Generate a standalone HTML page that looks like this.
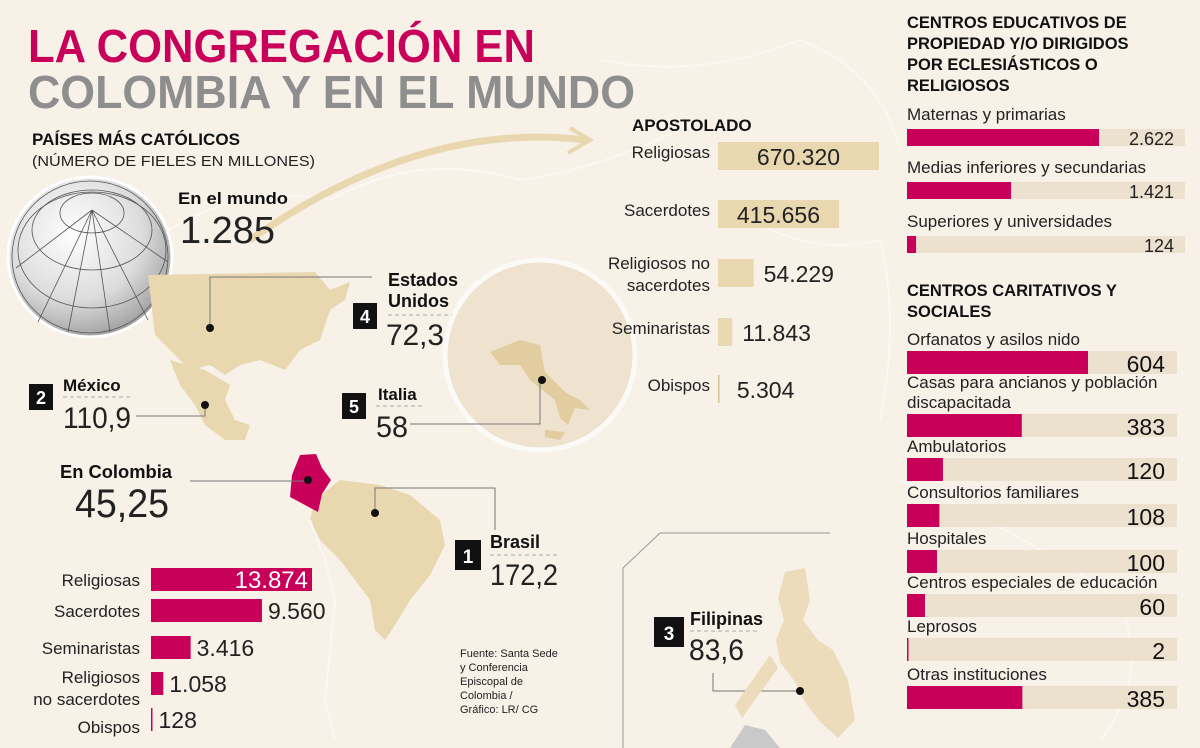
<!DOCTYPE html>
<html><head><meta charset="utf-8"><style>
html,body{margin:0;padding:0;background:#f7f1e8;}
svg{display:block;font-family:"Liberation Sans",sans-serif;}
</style></head><body>
<svg id="chart" width="1200" height="748" viewBox="0 0 1200 748" xmlns="http://www.w3.org/2000/svg">
<defs>
<radialGradient id="glb" cx="0.4" cy="0.35" r="0.7"><stop offset="0" stop-color="#ffffff"/><stop offset="0.6" stop-color="#dcdcdc"/><stop offset="1" stop-color="#9a9a9a"/></radialGradient>
</defs>
<rect width="1200" height="748" fill="#f7f1e8"/>
<g fill="none" stroke="#fbf8f3" stroke-width="2" opacity="0.9">
<path d="M140 250 Q230 180 330 200 Q420 150 520 180 Q600 170 700 120"/>
<path d="M600 60 Q700 80 800 40 Q880 70 900 150"/>
<path d="M720 200 Q800 260 880 240 Q900 320 880 420"/>
<path d="M900 480 Q1000 520 1120 600 Q1150 680 1100 740"/>
</g>
<text x="28" y="62" font-size="46" font-weight="bold" fill="#c8005a" textLength="507" lengthAdjust="spacingAndGlyphs">LA CONGREGACIÓN EN</text>
<text x="28" y="108" font-size="46" font-weight="bold" fill="#8e8e8e" textLength="607" lengthAdjust="spacingAndGlyphs">COLOMBIA Y EN EL MUNDO</text>
<text x="32" y="145" font-size="17" font-weight="bold" fill="#111" textLength="208" lengthAdjust="spacingAndGlyphs">PAÍSES MÁS CATÓLICOS</text>
<text x="32" y="166" font-size="15" fill="#222" textLength="283" lengthAdjust="spacingAndGlyphs">(NÚMERO DE FIELES EN MILLONES)</text>
<path d="M250 240 Q420 120 585 140" fill="none" stroke="#e9d7b0" stroke-width="7"/>
<path d="M570 128 L590 140 L568 153" fill="none" stroke="#e9d7b0" stroke-width="4"/>
<g>
<ellipse cx="90" cy="257" rx="82" ry="80" fill="url(#glb)" stroke="#fff" stroke-width="3"/>
<g fill="none" stroke="#555" stroke-width="0.8">
<ellipse cx="90" cy="257" rx="78" ry="76"/>
<ellipse cx="92" cy="213" rx="32" ry="20"/>
<ellipse cx="92" cy="230" rx="60" ry="40"/>
<ellipse cx="92" cy="250" rx="74" ry="58"/>
<path d="M92 210 L38 322 M92 210 L68 332 M92 210 L110 332 M92 210 L148 320 M92 210 L168 262 M92 210 L16 268"/>
</g>
</g>
<text x="178" y="204" font-size="17" font-weight="bold" fill="#111" textLength="110" lengthAdjust="spacingAndGlyphs">En el mundo</text>
<text x="180" y="243" font-size="38" fill="#222" textLength="95" lengthAdjust="spacingAndGlyphs">1.285</text>
<circle cx="540" cy="355" r="95" fill="#efe3d0" stroke="#fcfaf6" stroke-width="5"/>
<path d="M490 352 L520 340 L540 345 L545 372 L565 392 L580 400 L590 410 L575 408 L568 425 L560 418 L555 400 L530 380 L520 365 L500 365 Z" fill="#e2cda0"/>
<path d="M545 430 L565 432 L560 440 L545 437 Z" fill="#e2cda0"/>
<path d="M148 275 L315 272 L330 290 L350 282 L345 300 L330 310 L320 340 L300 350 L285 370 L260 360 L240 365 L225 375 L210 365 L190 370 L170 350 L155 335 Z" fill="#e9d7b0"/>
<path d="M170 360 L205 370 L230 385 L225 400 L235 420 L250 425 L245 440 L225 440 L205 425 L195 405 L180 385 Z" fill="#e9d7b0"/>
<path d="M315 500 L340 480 L380 485 L410 495 L440 520 L445 545 L430 575 L410 600 L395 625 L385 640 L375 630 L370 600 L355 580 L340 560 L320 540 L310 520 Z" fill="#e9d7b0"/>
<path d="M300 455 L316 454 L322 468 L331 480 L322 494 L318 512 L305 505 L290 497 L292 475 Z" fill="#c8005a"/>
<path d="M310 520 L325 560 L335 600 L330 650 L325 700 L335 740" fill="none" stroke="#fbf8f3" stroke-width="2"/>
<g fill="none" stroke="#777" stroke-width="1">
<path d="M210 328 L210 277 L372 277"/>
<path d="M205 405 L205 416 L136 416"/>
<path d="M410 424 L540 424 L540 380"/>
<path d="M190 481 L308 481"/>
<path d="M375 515 L375 488 L495 488 L495 530"/>
<path d="M713 673 L713 691 L800 691"/>
</g>
<g fill="none" stroke="#aaa" stroke-width="1" stroke-dasharray="4 3">
<path d="M388 315 L452 315"/><path d="M63 397 L132 397"/><path d="M376 406 L425 406"/><path d="M490 555 L558 555"/><path d="M690 631 L758 631"/>
</g>
<path d="M785 572 L805 568 L810 600 L803 620 L818 640 L833 650 L848 680 L855 720 L838 738 L820 722 L805 702 L795 682 L780 662 L776 640 L784 620 L778 598 Z M735 705 L770 655 L778 668 L742 718 Z" fill="#ecdcbb"/>
<path d="M730 748 L745 725 L765 730 L780 748 Z" fill="#c9c9c9"/>
<g fill="#111">
<circle cx="210" cy="328" r="4"/><circle cx="205" cy="405" r="4"/><circle cx="542" cy="380" r="4"/><circle cx="308" cy="480" r="4"/><circle cx="375" cy="513" r="4"/><circle cx="800" cy="691" r="4"/>
</g>
<g><rect x="353" y="303" width="24" height="26" fill="#111"/><text x="365" y="323" font-size="18" font-weight="bold" fill="#fff" text-anchor="middle">4</text></g>
<text x="388" y="286" font-size="18" font-weight="bold" fill="#111">Estados</text>
<text x="388" y="307" font-size="18" font-weight="bold" fill="#111">Unidos</text>
<text x="386" y="345" font-size="30" fill="#222" textLength="58" lengthAdjust="spacingAndGlyphs">72,3</text>
<g><rect x="29" y="384" width="24" height="26" fill="#111"/><text x="41" y="404" font-size="18" font-weight="bold" fill="#fff" text-anchor="middle">2</text></g>
<text x="63" y="391" font-size="17" font-weight="bold" fill="#111">México</text>
<text x="63" y="428" font-size="30" fill="#222" textLength="68" lengthAdjust="spacingAndGlyphs">110,9</text>
<g><rect x="342" y="393" width="24" height="26" fill="#111"/><text x="354" y="413" font-size="18" font-weight="bold" fill="#fff" text-anchor="middle">5</text></g>
<text x="378" y="400" font-size="17" font-weight="bold" fill="#111">Italia</text>
<text x="376" y="437" font-size="30" fill="#222" textLength="32" lengthAdjust="spacingAndGlyphs">58</text>
<text x="60" y="478" font-size="18" font-weight="bold" fill="#111" textLength="112" lengthAdjust="spacingAndGlyphs">En Colombia</text>
<text x="75" y="517" font-size="40" fill="#222" textLength="94" lengthAdjust="spacingAndGlyphs">45,25</text>
<g><rect x="455" y="540" width="26" height="30" fill="#111"/><text x="468" y="563" font-size="19" font-weight="bold" fill="#fff" text-anchor="middle">1</text></g>
<text x="490" y="548" font-size="18" font-weight="bold" fill="#111">Brasil</text>
<text x="490" y="585" font-size="30" fill="#222" textLength="68" lengthAdjust="spacingAndGlyphs">172,2</text>
<path d="M623 748 L623 568 L660 533 L830 533" fill="none" stroke="#999" stroke-width="1"/>
<g><rect x="654" y="617" width="30" height="30" fill="#111"/><text x="669" y="640" font-size="19" font-weight="bold" fill="#fff" text-anchor="middle">3</text></g>
<text x="690" y="625" font-size="18" font-weight="bold" fill="#111">Filipinas</text>
<text x="689" y="660" font-size="30" fill="#222" textLength="55" lengthAdjust="spacingAndGlyphs">83,6</text>
<g font-size="11" fill="#222">
<text x="460" y="657">Fuente: Santa Sede</text><text x="460" y="671">y Conferencia</text><text x="460" y="685">Episcopal de</text><text x="460" y="699">Colombia /</text><text x="460" y="713">Gráfico: LR/ CG</text>
</g>
<text x="632" y="131" font-size="17" font-weight="bold" fill="#111">APOSTOLADO</text>
<text x="907" y="28" font-size="16.5" font-weight="bold" fill="#111">CENTROS EDUCATIVOS DE</text>
<text x="907" y="49" font-size="16.5" font-weight="bold" fill="#111">PROPIEDAD Y/O DIRIGIDOS</text>
<text x="907" y="70" font-size="16.5" font-weight="bold" fill="#111">POR ECLESIÁSTICOS O</text>
<text x="907" y="91" font-size="16.5" font-weight="bold" fill="#111">RELIGIOSOS</text>
<text x="907" y="296" font-size="16.5" font-weight="bold" fill="#111">CENTROS CARITATIVOS Y</text>
<text x="907" y="317" font-size="16.5" font-weight="bold" fill="#111">SOCIALES</text>
<g id="charts"></g>
</svg>
<script>
const colCats = ["Religiosas","Sacerdotes","Seminaristas","Religiosos|no sacerdotes","Obispos"];
const colVals = [13874, 9560, 3416, 1058, 128];
const colLabels = ["13.874","9.560","3.416","1.058","128"];
const apoCats = ["Religiosas","Sacerdotes","Religiosos no|sacerdotes","Seminaristas","Obispos"];
const apoVals = [670320, 415656, 54229, 11843, 5304];
const apoLabels = ["670.320","415.656","54.229","11.843","5.304"];
const eduCats = ["Maternas y primarias","Medias inferiores y secundarias","Superiores y universidades"];
const eduVals = [2622, 1421, 124];
const eduLabels = ["2.622","1.421","124"];
const socCats = ["Orfanatos y asilos nido","Casas para ancianos y población|discapacitada","Ambulatorios","Consultorios familiares","Hospitales","Centros especiales de educación","Leprosos","Otras instituciones"];
const socVals = [604, 383, 120, 108, 100, 60, 2, 385];
const socLabels = ["604","383","120","108","100","60","2","385"];

const NS = "http://www.w3.org/2000/svg";
const g = document.getElementById('charts');
function mk(tag, attrs, text){const e=document.createElementNS(NS,tag);for(const k in attrs)e.setAttribute(k,attrs[k]);if(text!==undefined)e.textContent=text;g.appendChild(e);return e;}

const colX = v => v * (161/13874);
const colY = [568, 599, 636, 672, 708];
const colLabelY = [[586],[617],[654],[683,705],[733]];
colVals.forEach((v,i)=>{
  const w = Math.max(1.5, colX(v));
  const r = mk('rect',{x:151,y:colY[i],width:w,height:23,fill:'#c8005a'});
  
  
  const parts = colCats[i].split('|');
  parts.forEach((p,j)=>{
    const t = mk('text',{x:140,y:colLabelY[i][j],'font-size':17,fill:'#222','text-anchor':'end'},p);
    
    
  });
  const inside = i===0;
  const t = mk('text',{x: inside? 151+w-4 : 151+w+6, y:colY[i]+20,'font-size':inside?24:23,fill:inside?'#fff':'#222','text-anchor':inside?'end':'start'},colLabels[i]);
  
  
});

const apoX = v => 161 * Math.pow(v/670320, 0.6);
const apoY = [142, 200, 259, 318, 375];
apoVals.forEach((v,i)=>{
  const w = apoX(v);
  const r = mk('rect',{x:718,y:apoY[i],width:i===4?1.5:w,height:28,fill:i===4?'#d9c296':'#e9d7b0'});
  
  
  const parts = apoCats[i].split('|');
  parts.forEach((p,j)=>{
    const t = mk('text',{x:710,y:apoY[i]+16 - (parts.length-1)*10 + j*22 + (parts.length>1?4:0),'font-size':17,fill:'#222','text-anchor':'end'},p);
    
    
  });
  const inside = i<2;
  const t = mk('text',{x: inside? 718+w/2 : 718+w+10, y:apoY[i]+23,'font-size':23,fill:'#222','text-anchor':inside?'middle':'start'},apoLabels[i]);
  
  
});

const eduX = v => v * (192/2622);
const eduY = [129, 182, 236];
eduVals.forEach((v,i)=>{
  const bg = mk('rect',{x:907,y:eduY[i],width:278,height:17,fill:'#ece1cf'});
  
  
  const r = mk('rect',{x:907,y:eduY[i],width:eduX(v),height:17,fill:'#c8005a'});
  
  
  const l = mk('text',{x:907,y:eduY[i]-9,'font-size':17,fill:'#222'},eduCats[i]);
  
  
  const t = mk('text',{x:1174,y:eduY[i]+16,'font-size':18,fill:'#222','text-anchor':'end'},eduLabels[i]);
  
  
});

const socX = v => v * (181/604);
const socY = [351, 414, 458, 504, 550, 594, 638, 686];
socVals.forEach((v,i)=>{
  const bg = mk('rect',{x:907,y:socY[i],width:270,height:23,fill:'#ece1cf'});
  
  
  const r = mk('rect',{x:907,y:socY[i],width:Math.max(1.5,socX(v)),height:23,fill:'#c8005a'});
  
  
  const parts = socCats[i].split('|');
  parts.forEach((p,j)=>{
    const l = mk('text',{x:907,y:socY[i]-6 - (parts.length-1-j)*20,'font-size':17,fill:'#222'},p);
    
    
  });
  const t = mk('text',{x:1165,y:socY[i]+21,'font-size':23,fill:'#111','text-anchor':'end'},socLabels[i]);
  
  
});
</script>
</body></html>
